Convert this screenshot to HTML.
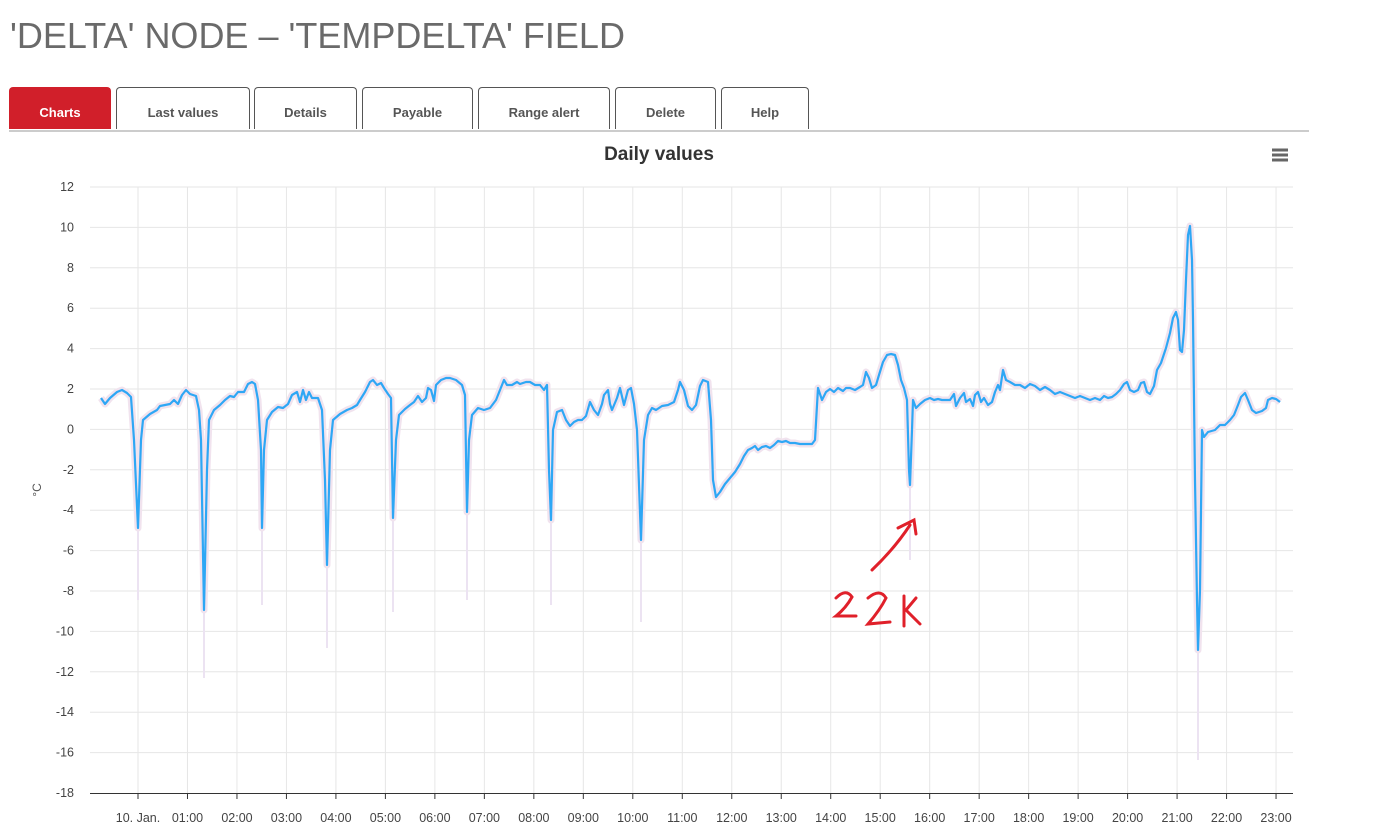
<!DOCTYPE html>
<html><head><meta charset="utf-8"><style>
body{margin:0;width:1375px;height:828px;background:#fff;font-family:"Liberation Sans",sans-serif;position:relative;overflow:hidden}
h1{position:absolute;left:10px;top:15px;margin:0;font-weight:normal;font-size:36px;color:#6a6a6a;letter-spacing:0}
.tab{position:absolute;top:87px;height:42px;border:1px solid #555;border-bottom:none;border-radius:4px 4px 0 0;background:#fff;font-size:13px;font-weight:bold;color:#555;text-align:center;line-height:50px;box-sizing:border-box}
.tab.on{background:#d11f2a;border-color:#d11f2a;color:#fff}
.bar{position:absolute;left:9px;top:130px;width:1300px;height:2px;background:#ccc}
</style></head><body>
<h1>'DELTA' NODE – 'TEMPDELTA' FIELD</h1>
<div class="tab on" style="left:9px;width:102px">Charts</div>
<div class="tab" style="left:116px;width:134px">Last values</div>
<div class="tab" style="left:254px;width:103px">Details</div>
<div class="tab" style="left:362px;width:111px">Payable</div>
<div class="tab" style="left:478px;width:132px">Range alert</div>
<div class="tab" style="left:615px;width:101px">Delete</div>
<div class="tab" style="left:721px;width:88px">Help</div>
<div class="bar"></div>
<svg width="1375" height="828" style="position:absolute;left:0;top:0" font-family="Liberation Sans, sans-serif">
<text x="659" y="160" text-anchor="middle" font-size="19" font-weight="bold" fill="#333">Daily values</text>
<g stroke="#666" stroke-width="3"><line x1="1272" y1="150" x2="1288" y2="150"/><line x1="1272" y1="155" x2="1288" y2="155"/><line x1="1272" y1="160" x2="1288" y2="160"/></g>
<g stroke="#e6e6e6" stroke-width="1" id="g"></g>
<g font-size="12.5" fill="#444" text-anchor="end" id="yl"></g>
<g font-size="12.5" fill="#444" text-anchor="middle" id="xl"></g>
<text transform="translate(41,490) rotate(-90)" font-size="12" fill="#555" text-anchor="middle">°C</text>
<line x1="90" y1="793.5" x2="1293" y2="793.5" stroke="#333" stroke-width="1"/>
<g stroke="#ece3f2" stroke-width="2" id="tails"></g>
<polyline id="band" fill="none" stroke="#f1e3ee" stroke-width="7" stroke-linejoin="round"/>
<polyline id="ln" fill="none" stroke="#2ea7f5" stroke-width="2.2" stroke-linejoin="round"/>
<g fill="none" stroke="#e0202a" stroke-width="3" stroke-linecap="round">
<path d="M872 570 Q895 548 910 525 M898 528 L914 520 L916 534"/>
<path d="M836 598 Q846 588 852 597 Q846 608 836 616 L856 616"/>
<path d="M868 598 Q880 588 886 598 Q880 610 868 624 L890 622"/>
<path d="M904 596 L904 626 M916 598 L906 610 L920 624"/>
</g>
</svg>
<script>
var s="http://www.w3.org/2000/svg";
function el(p,t,a,txt){var e=document.createElementNS(s,t);for(var k in a)e.setAttribute(k,a[k]);if(txt)e.textContent=txt;document.getElementById(p).appendChild(e);}
for(var v=12;v>=-18;v-=2){var y=429.4-20.2*v;if(v>-18)el("g","line",{x1:90,x2:1293,y1:y,y2:y});el("yl","text",{x:74,y:y+4},String(v));}
for(var h=0;h<24;h++){var x=138+h*49.48;el("g","line",{x1:x,x2:x,y1:187,y2:793});el("g","line",{x1:x,x2:x,y1:793,y2:799,stroke:"#333"});
el("xl","text",{x:x,y:822},h==0?"10. Jan.":(h<10?"0":"")+h+":00");}
var P="101,398 105,404 110,398 117,392 122,390 127,393 131,397 134,440 138,528 141,440 143,420 150,414 157,410 160,406 165,405 170,404 174,400 178,404 182,395 186,390 190,394 196,396 199,410 201,440 204,610 207,470 209,420 214,410 220,405 225,400 230,396 234,397 238,392 244,392 248,384 252,382 255,384 258,400 261,450 262,528 264,450 267,420 272,412 278,407 283,408 288,404 292,395 297,392 300,402 303,390 306,400 309,392 312,398 318,398 322,410 325,480 327,565 330,450 333,420 340,414 347,410 352,408 357,405 360,400 365,392 370,382 373,380 377,385 381,383 384,388 388,394 391,398 393,518 396,440 399,415 405,409 410,405 414,402 418,396 422,402 426,398 428,388 431,390 434,401 436,385 441,380 446,378 450,378 456,380 462,385 465,395 467,512 469,440 472,415 478,408 484,410 490,408 496,400 500,390 504,380 507,385 512,385 517,382 520,384 526,382 530,382 535,385 540,385 544,390 547,385 549,470 551,520 553,430 557,412 562,410 566,420 570,426 574,422 578,420 582,420 586,416 590,402 594,410 598,415 602,404 604,395 608,390 610,404 612,410 617,398 620,388 624,405 628,390 631,388 634,404 637,430 641,540 644,440 648,415 652,408 656,410 662,406 668,405 674,402 678,390 680,382 684,390 688,406 692,410 696,405 700,386 703,380 708,382 711,420 713,480 716,497 720,492 725,484 730,478 735,472 740,464 744,456 748,450 752,448 755,446 758,450 762,447 766,446 770,448 774,445 778,441 782,442 786,441 790,443 795,443 800,444 805,444 812,444 815,440 818,388 822,400 826,392 830,389 834,392 838,388 843,391 846,388 850,388 855,390 860,387 863,385 866,372 869,378 872,388 876,385 879,375 883,362 887,355 891,354 895,355 898,365 901,380 904,388 907,400 909,470 910,485 912,430 913,400 916,408 920,404 925,400 930,398 934,400 938,399 942,400 946,400 950,400 954,394 956,406 960,398 964,393 966,402 970,399 973,406 975,395 978,392 981,402 984,398 988,405 992,402 995,392 998,385 1000,390 1003,370 1006,380 1010,382 1015,385 1020,385 1025,388 1030,384 1035,386 1040,390 1045,387 1050,390 1055,394 1060,392 1065,394 1070,396 1075,398 1080,396 1085,398 1090,400 1095,398 1100,400 1104,396 1108,398 1112,397 1116,394 1120,390 1124,384 1127,382 1130,390 1134,392 1138,390 1141,383 1144,382 1147,392 1150,394 1154,386 1157,370 1161,363 1166,348 1170,333 1173,318 1176,312 1178,320 1180,350 1182,352 1184,330 1186,280 1188,235 1190,226 1192,260 1193,320 1195,480 1197,600 1198,650 1200,590 1202,430 1204,437 1208,432 1215,430 1220,425 1225,425 1230,420 1234,415 1238,405 1241,397 1245,393 1248,400 1252,410 1256,413 1262,411 1266,408 1268,400 1272,398 1276,399 1280,402";
document.getElementById("ln").setAttribute("points",P);document.getElementById("band").setAttribute("points",P);
[[138,528,600],[204,610,678],[262,528,605],[327,565,648],[393,518,612],[467,512,600],[551,520,605],[641,540,622],[910,485,560],[1198,650,760]].forEach(function(t){el("tails","line",{x1:t[0],x2:t[0],y1:t[1],y2:t[2]});});
</script>
</body></html>
